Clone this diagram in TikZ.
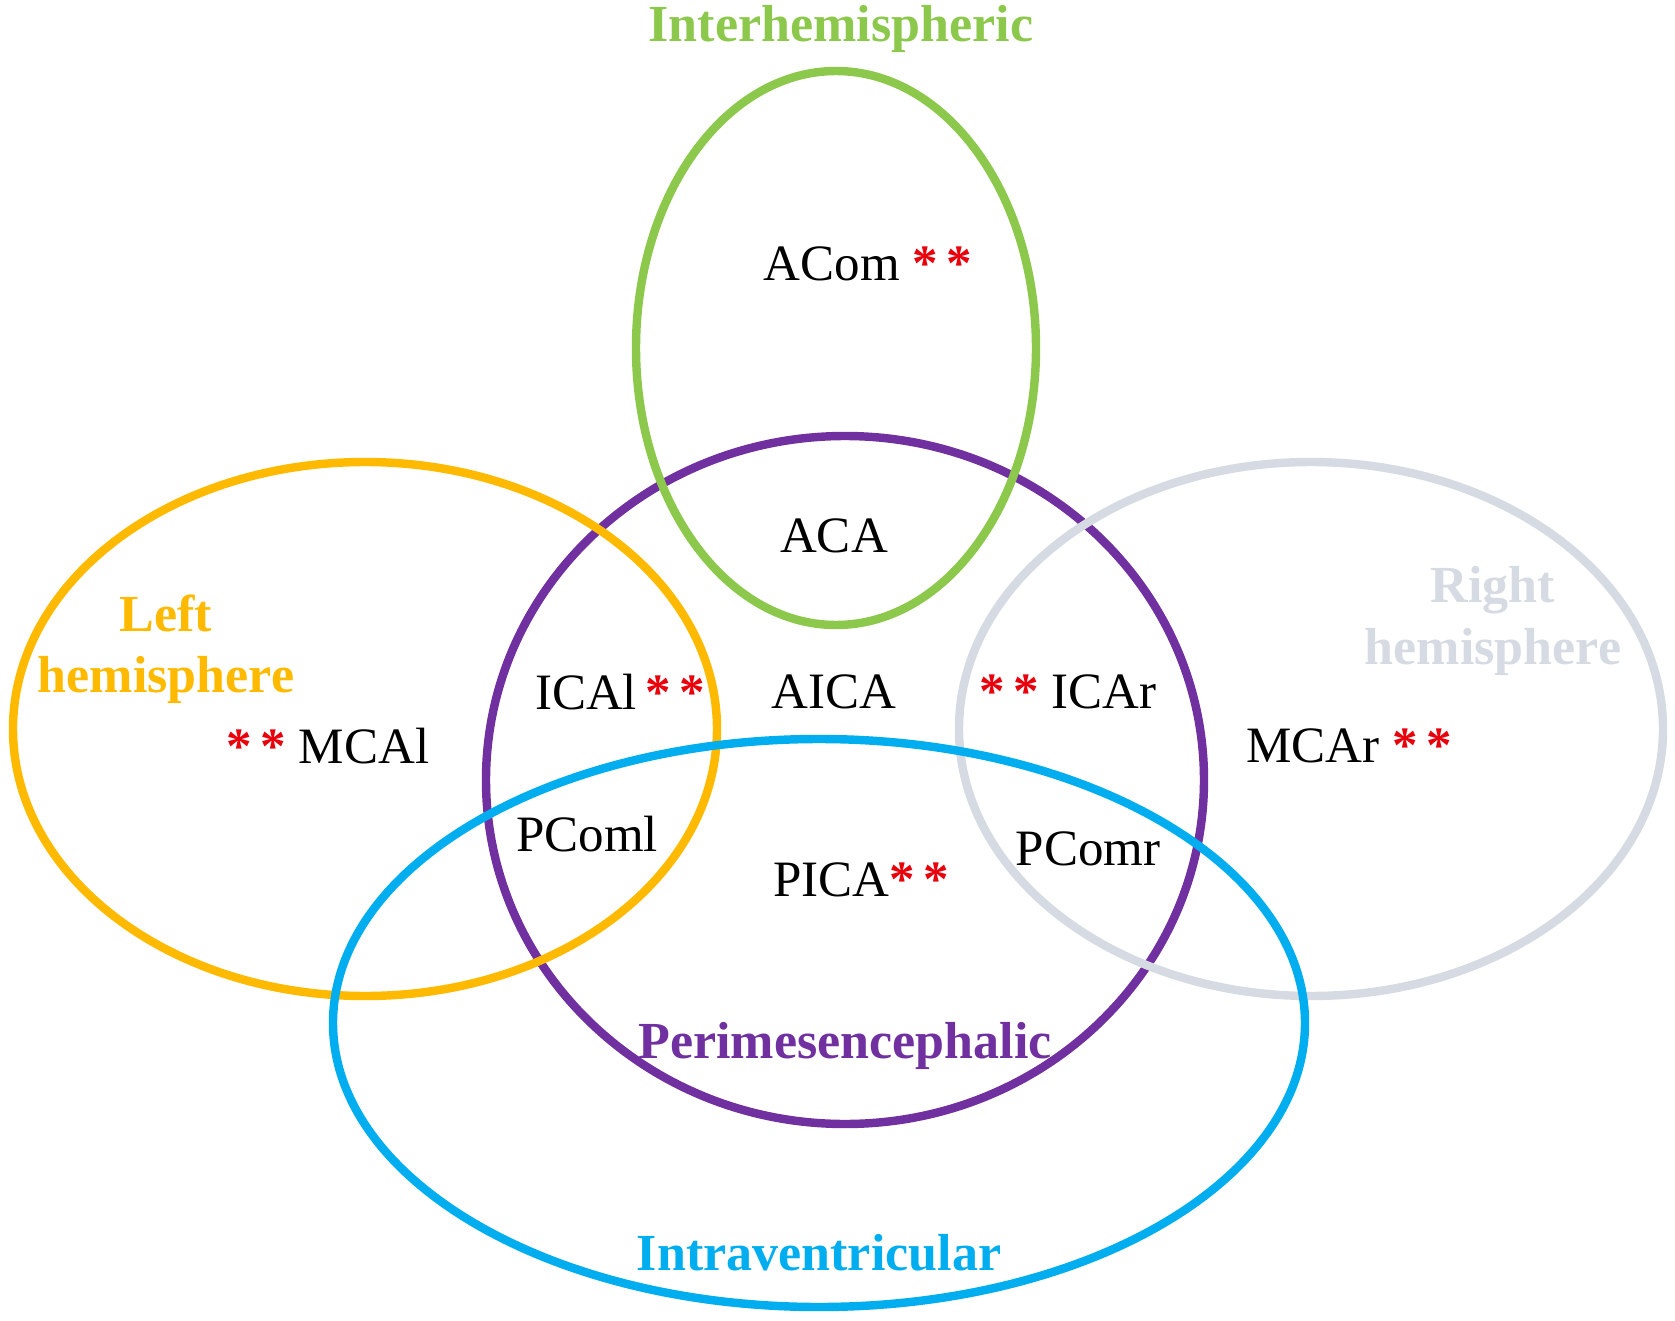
\documentclass[tikz,border=0pt]{standalone}
\usepackage{fontspec}
\setmainfont{Liberation Serif}
\usepackage{tikz}
\usetikzlibrary{positioning}
\definecolor{interGreen}{HTML}{8CC84B}
\definecolor{periPurple}{HTML}{7030A0}
\definecolor{leftGold}{HTML}{FFBA00}
\definecolor{rightGrey}{HTML}{D5DAE3}
\definecolor{ventBlue}{HTML}{00AEEF}
\definecolor{sigRed}{HTML}{E8000B}
\newcommand{\twostar}{\textcolor{sigRed}{\textbf{*\,*}}}
\tikzset{
  set ring/.style={line width=2.4pt},
  artery/.style={font=\fontsize{14.5}{17}\selectfont, inner sep=1pt},
  set name/.style={font=\fontsize{14.8}{17.5}\selectfont\bfseries,
    align=center, inner sep=1pt}
}

\begin{document}
\begin{tikzpicture}[x=0.01cm, y=-0.01cm]
  \useasboundingbox (0,0) rectangle (1675,1321);
  % the five sets
  \draw[set ring, draw=periPurple] (845,780) ellipse [x radius=359, y radius=344];
  \draw[set ring, draw=interGreen] (836,348) ellipse [x radius=200, y radius=277];
  \draw[set ring, draw=leftGold] (365,729) ellipse [x radius=352, y radius=267];
  \draw[set ring, draw=rightGrey] (1311,729) ellipse [x radius=352, y radius=267];
  \draw[set ring, draw=ventBlue] (819,1023) ellipse [x radius=486, y radius=284];

  % set names
  \node[set name, text=interGreen] (inter) at (841,29) {Interhemispheric};
  \node[set name, text=leftGold] (lefth) at (166,649) {Left\\hemisphere};
  \node[set name, text=rightGrey] (righth) at (1493,621) {Right\\hemisphere};
  \node[set name, text=periPurple] (peri) at (845,1046) {Perimesencephalic};
  \node[set name, text=ventBlue] (intra) at (819,1253) {Intraventricular};

  % arteries
  \node[artery] (acom) at (868,264) {ACom \twostar};
  \node[artery] (aca) at (834,536) {ACA};
  \node[artery] (mcal) at (328,746) {\twostar\ MCAl};
  \node[artery] (ical) at (620,692) {ICAl\,\twostar};
  \node[artery] (aica) at (834,692) {AICA};
  \node[artery] (icar) at (1068,692) {\twostar\ ICAr};
  \node[artery] (mcar) at (1349,746) {MCAr \twostar};
  \node[artery] (pcoml) at (587,834) {PComl};
  \node[artery] (pica) at (861,880) {PICA\twostar};
  \node[artery] (pcomr) at (1088,849) {PComr};
\end{tikzpicture}
\end{document}
